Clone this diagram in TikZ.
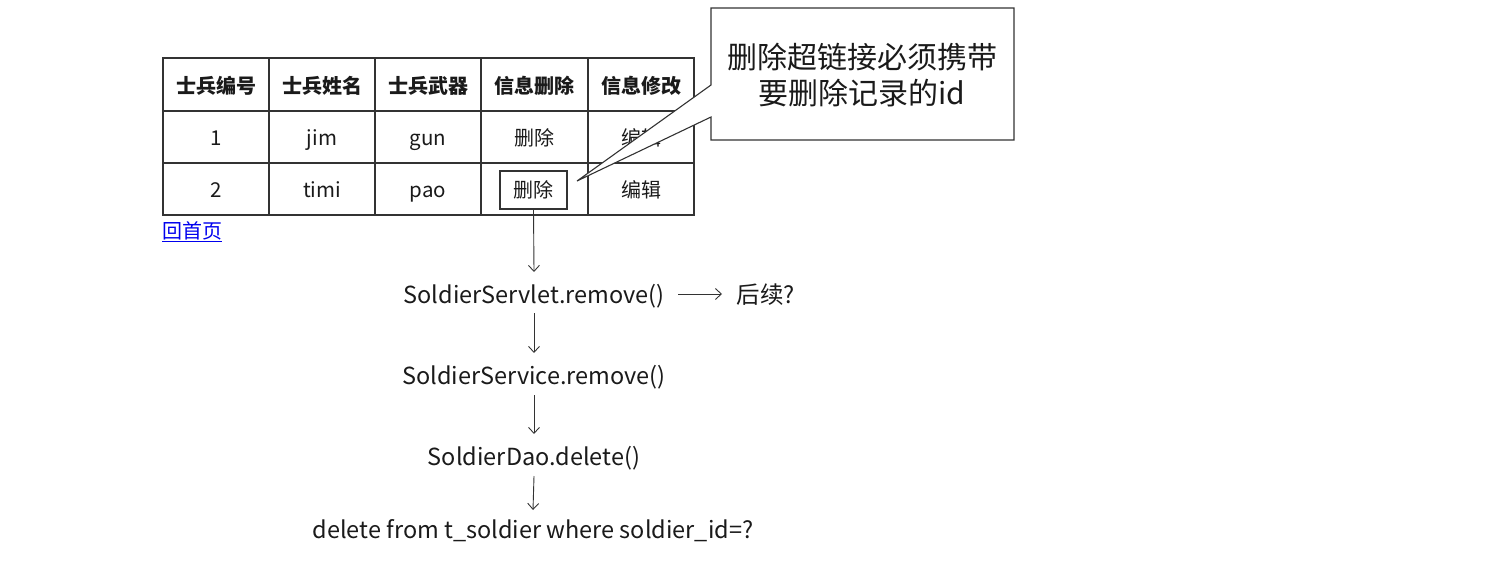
\documentclass[tikz,border=0pt]{standalone}
\usepackage{fontspec}
\setmainfont{Noto Sans CJK SC}
\usetikzlibrary{arrows.meta}
\definecolor{linec}{HTML}{333333}
\definecolor{txt}{HTML}{1A1A1A}
\definecolor{linkc}{HTML}{0000EE}
\tikzset{
  cell/.style={font=\fontsize{20.5}{24}\selectfont, text=txt, inner sep=0pt, text height=0.75em, text depth=0.25em, yshift=-6pt},
  small/.style={font=\fontsize{20}{24}\selectfont},
  head/.style={font=\fontsize{20}{24}\selectfont\bfseries, text=txt, inner sep=0pt, text height=0.75em, text depth=0.25em, yshift=-6pt},
  flow/.style={font=\fontsize{23.5}{28}\selectfont, text=txt, inner sep=0pt, text height=0.75em, text depth=0.25em, yshift=-6pt},
  arr/.style={draw=linec, line width=0.9pt, -{Straight Barb[length=6pt,width=11pt]}},
  grid/.style={draw=linec, line width=1.1pt}
}
\begin{document}
\begin{tikzpicture}[x=1pt,y=-1pt]
\useasboundingbox (0,0) rectangle (1490,573);
% table grid
\draw[grid] (163,58) rectangle (694,215);
\foreach \x in {269,375,481,588} \draw[grid] (\x,58) -- (\x,215);
\foreach \y in {111,163} \draw[grid] (163,\y) -- (694,\y);
% header
\node[head] (h1) at (216,85) {士兵编号};
\node[head] (h2) at (322,85) {士兵姓名};
\node[head] (h3) at (428,85) {士兵武器};
\node[head] (h4) at (534.5,85) {信息删除};
\node[head] (h5) at (641,85) {信息修改};
% row 1
\node[cell] (r11) at (216,137) {1};
\node[cell] (r12) at (322,137) {jim};
\node[cell] (r13) at (428,137) {gun};
\node[cell,small] (r14) at (534.5,137) {删除};
\node[cell,small] (r15) at (641,137) {编辑};
% row 2
\node[cell] (r21) at (216,189) {2};
\node[cell] (r22) at (322,189) {timi};
\node[cell] (r23) at (428,189) {pao};
\node[cell,small,yshift=6pt, draw=linec, line width=1.1pt, minimum width=67pt, minimum height=38pt, text height=1.6em, text depth=0.1em] (del) at (533.5,190) {删除};
\node[cell,small] (r25) at (641,189) {编辑};
% link
\node[font=\fontsize{20}{24}\selectfont, text=linkc, inner sep=0pt, anchor=west] (home) at (162,232) {\underline{回首页}};
% callout
\coordinate (tip) at (577,181);
\draw[draw=linec, line width=1.1pt, fill=white]
  (711,8) -- (1014,8) -- (1014,140) -- (711,140) -- (711,117) -- (tip) -- (711,85) -- cycle;
\node[font=\fontsize{30}{36}\selectfont, text=txt, align=center, inner sep=0pt] (note) at (862,75) {删除超链接必须携带\\要删除记录的id};
% flow
\node[flow] (servlet) at (534,295) {SoldierServlet.remove()};
\node[flow] (later) at (766,295) {后续?};
\node[flow] (service) at (534,376) {SoldierService.remove()};
\node[flow] (dao) at (534,457) {SoldierDao.delete()};
\node[flow] (sql) at (533,530) {delete from t\_soldier where soldier\_id=?};
\draw[arr] (del.south) -- (534,272);
\draw[arr] (678,294) -- (722,294);
\draw[arr] (534,313) -- (534,353);
\draw[arr] (534,395) -- (534,434);
\draw[arr] (534,476) -- (533,510);
\end{tikzpicture}
\end{document}
